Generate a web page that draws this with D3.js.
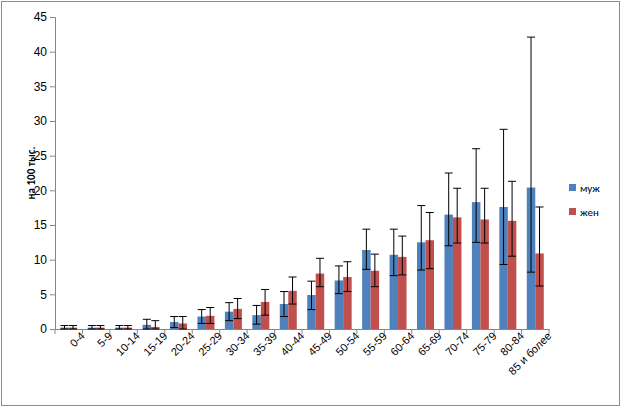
<!DOCTYPE html>
<html><head><meta charset="utf-8">
<script src="https://cdn.jsdelivr.net/npm/d3@7"></script>
<style>body{margin:0;background:#fff}svg{font-family:Calibri,"Liberation Sans",Arial,sans-serif}</style>
</head><body><svg id="chart"></svg>
<script>
var categories = ["0-4","5-9","10-14","15-19","20-24","25-29","30-34","35-39","40-44","45-49","50-54","55-59","60-64","65-69","70-74","75-79","80-84","85 и более"];
var male = [0.2,0.2,0.2,0.6,1.0,1.8,2.5,2.0,3.6,4.9,7.0,11.4,10.7,12.5,16.5,18.3,17.6,20.4];
var maleHi = [0.5,0.5,0.5,1.4,1.8,2.8,3.8,3.4,5.4,6.9,9.1,14.4,14.4,17.8,22.5,26.0,28.8,42.1];
var maleLo = [0,0,0,0,0.2,0.8,1.2,0.7,1.8,2.8,5.1,8.6,7.7,8.5,12.0,12.5,9.3,8.2];
var female = [0.2,0.2,0.2,0.3,0.8,1.9,2.9,3.9,5.5,8.0,7.5,8.4,10.4,12.8,16.1,15.8,15.6,10.9];
var femaleHi = [0.5,0.5,0.5,1.2,1.8,3.1,4.4,5.7,7.5,10.2,9.7,10.8,13.4,16.8,20.3,20.3,21.3,17.6];
var femaleLo = [0,0,0,0,0,0.8,1.5,2.0,3.6,6.1,5.4,6.1,7.8,8.7,12.4,12.4,10.5,6.2];
var yTicks = [0,5,10,15,20,25,30,35,40,45];
var seriesNames = ["муж","жен"];
var colors = ["#4f81bd","#c0504d"];

var W = 621, H = 407;
var svg = d3.select("#chart").attr("width", W).attr("height", H);
svg.append("rect").attr("x",1.5).attr("y",1.5).attr("width",W-3).attr("height",H-3)
  .attr("fill","#fff").attr("stroke","#8c8c8c");

var x = d3.scaleBand().domain(categories).range([55, 549]);
var y = d3.scaleLinear().domain([0,45]).range([329, 17]);

var yAxis = svg.append("g").attr("transform","translate(55,0)")
  .call(d3.axisLeft(y).tickValues(yTicks).tickSize(5));
yAxis.selectAll("text").attr("font-size",12).attr("fill","#000");
yAxis.select(".domain").attr("stroke","#868686");
yAxis.selectAll(".tick line").attr("stroke","#868686");

var xAxis = svg.append("g").attr("transform","translate(0,329)")
  .call(d3.axisBottom(x).tickSize(0));
xAxis.select(".domain").attr("stroke","#868686");
xAxis.selectAll("text").attr("font-size",11).attr("fill","#000")
  .attr("text-anchor","end").attr("dx","0.6em").attr("dy","1.3em")
  .attr("transform","rotate(-45)");
categories.concat([null]).forEach(function(c, i){
  var px = 55 + x.step()*i;
  svg.append("line").attr("x1",px).attr("x2",px).attr("y1",329).attr("y2",334).attr("stroke","#868686");
});

var bw = 8.5;
var sets = [[male,maleHi,maleLo,-bw],[female,femaleHi,femaleLo,0]];
sets.forEach(function(s, k){
  var g = svg.append("g");
  categories.forEach(function(c, i){
    var bx = x(c) + x.bandwidth()/2 + s[3];
    g.append("rect").attr("x",bx).attr("width",bw).attr("y",y(s[0][i])).attr("height",y(0)-y(s[0][i])).attr("fill",colors[k]);
    var cx = bx + bw/2;
    g.append("line").attr("x1",cx).attr("x2",cx).attr("y1",y(s[1][i])).attr("y2",y(s[2][i])).attr("stroke","#000");
    [s[1][i], s[2][i]].forEach(function(v){
      g.append("line").attr("x1",cx-4).attr("x2",cx+4).attr("y1",y(v)).attr("y2",y(v)).attr("stroke","#000");
    });
  });
});

svg.append("text").attr("transform","translate(35,173) rotate(-90)").attr("text-anchor","middle")
  .attr("font-size",11).attr("font-weight","bold").text("на 100 тыс.");

seriesNames.forEach(function(n, i){
  var ly = 188 + i*24;
  svg.append("rect").attr("x",569).attr("y",ly-4).attr("width",7).attr("height",7).attr("fill",colors[i]);
  svg.append("text").attr("x",580).attr("y",ly+4).attr("font-size",11).text(n);
});
</script></body></html>
